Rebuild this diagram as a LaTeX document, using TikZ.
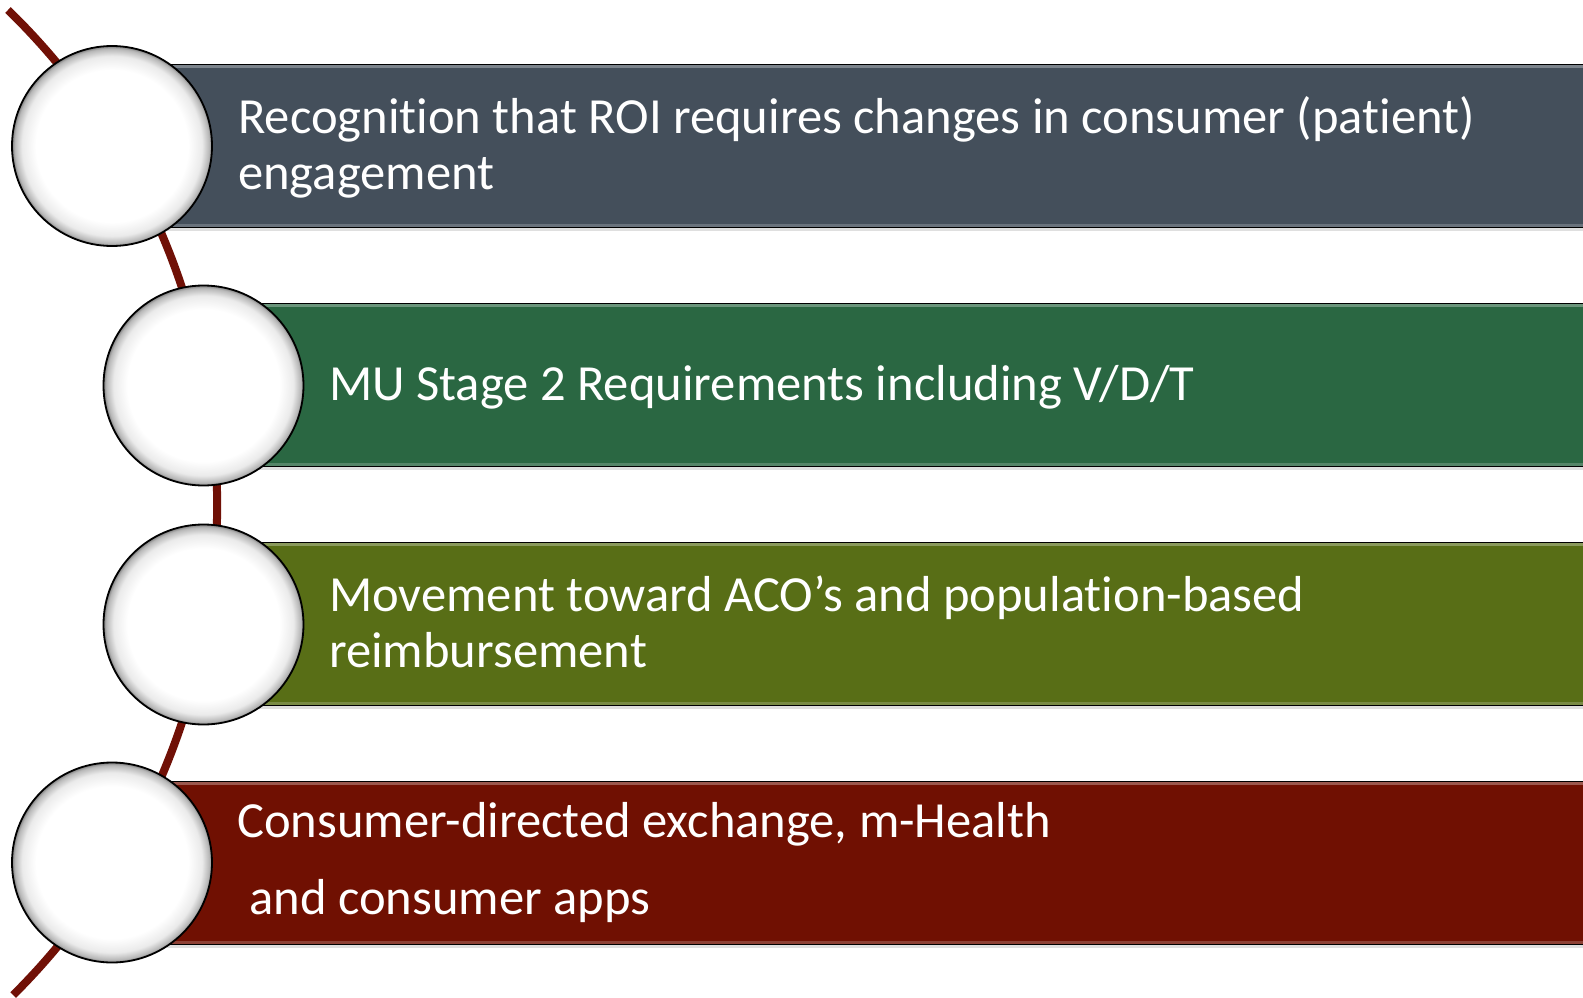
\documentclass[tikz,border=0pt]{standalone}
\usepackage{fontspec}
\setmainfont{Carlito}[Ligatures={NoCommon,NoContextual},Contextuals=NoAlternate,RawFeature={-liga,-clig,-calt}]
\usetikzlibrary{shadows}

\definecolor{slate}{RGB}{68,79,91}
\definecolor{forest}{RGB}{42,103,66}
\definecolor{olive}{RGB}{88,110,22}
\definecolor{maroon}{RGB}{112,16,2}
\definecolor{spinered}{RGB}{112,16,6}

% white bead with a grey rim
\pgfdeclareradialshading{bead}{\pgfpoint{0bp}{0bp}}{%
  color(0bp)=(white); color(19bp)=(white); color(22.5bp)=(black!8);
  color(24.3bp)=(black!28); color(25bp)=(black!50); color(50bp)=(black!50)}

\begin{document}
\begin{tikzpicture}[x=1pt,y=-1pt,
  bar/.style={rectangle, draw=black, line width=1.4pt, minimum height=162pt,
    minimum width=1480pt, anchor=west, inner sep=0pt,
    drop shadow={shadow xshift=0pt, shadow yshift=-4pt, opacity=0.25}},
  sheen/.style={line width=3pt},
  beadnode/.style={circle, draw=black, line width=1.8pt, minimum size=200pt,
    inner sep=0pt, shading=bead},
  itemtext/.style={anchor=base west, inner sep=0pt, text=white,
    font=\fontsize{50.6}{60}\selectfont},
  spineline/.style={draw=spinered, line width=8pt}]

\useasboundingbox (0,0) rectangle (1583,998);

% the curved spine behind the list
\coordinate (arctop) at (8,10);
\draw[spineline] (arctop) arc[start angle=-45.8, end angle=45.2, radius=690.6];

% bars
\node[bar, fill=slate]  (bar1) at (112,146) {};
\node[bar, fill=forest] (bar2) at (203,385) {};
\node[bar, fill=olive]  (bar3) at (203,624) {};
\node[bar, fill=maroon] (bar4) at (112,863) {};

\foreach \b/\c in {bar1/slate, bar2/forest, bar3/olive, bar4/maroon}{
  \draw[sheen, \c!70!white] ([yshift=-2.2pt]\b.north west) -- ([yshift=-2.2pt]\b.north east);
  \draw[sheen, \c!80!white] ([yshift=2.2pt]\b.south west) -- ([yshift=2.2pt]\b.south east);
}

% beads
\node[beadnode] (bead1) at (112,146) {};
\node[beadnode] (bead2) at (203.5,385.5) {};
\node[beadnode] (bead3) at (203.5,624.5) {};
\node[beadnode] (bead4) at (112,862.5) {};

% labels
\node[itemtext] (t1a) at (238,133) {Recognition that ROI requires changes in consumer (patient)};
\node[itemtext] (t1b) at (238,189) {engagement};
\node[itemtext] (t2)  at (329,400) {MU Stage 2 Requirements including V/D/T};
\node[itemtext] (t3a) at (329,611) {Movement toward ACO’s and population-based};
\node[itemtext] (t3b) at (329,667) {reimbursement};
\node[itemtext] (t4a) at (237,837) {Consumer-directed exchange, m-Health};
\node[itemtext] (t4b) at (249,914) {and consumer apps};
\end{tikzpicture}
\end{document}
